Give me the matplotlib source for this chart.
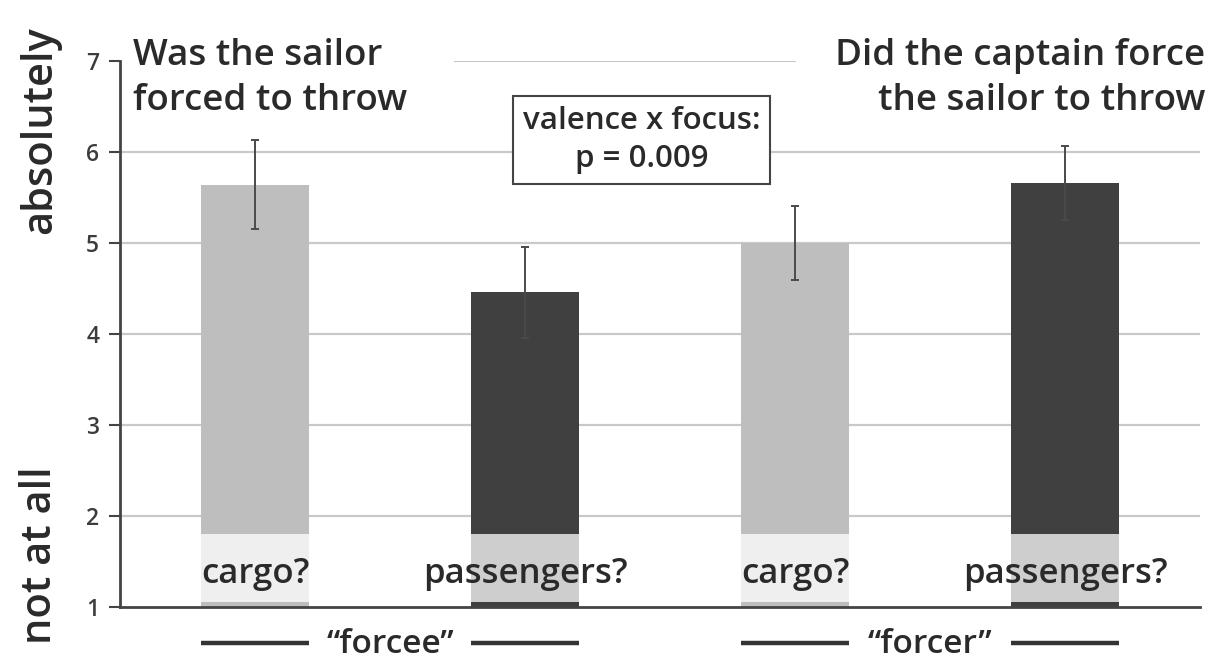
import matplotlib
matplotlib.use("Agg")
import matplotlib.pyplot as plt

plt.rcParams['font.family'] = ['Open Sans', 'DejaVu Sans']

categories = ["cargo?", "passengers?", "cargo?", "passengers?"]
means = [5.64, 4.46, 5.00, 5.66]
errors = [0.49, 0.50, 0.41, 0.41]
groups = ["\u201cforcee\u201d", "\u201cforcer\u201d"]
y_ticks = [1, 2, 3, 4, 5, 6, 7]

bar_colors = ["#bebebe", "#404040", "#bebebe", "#404040"]
band_colors = ["#efefef", "#cecece", "#efefef", "#cecece"]
band_low, band_high = 1.06, 1.80

W = "semibold"
TXT = "#2a2a2a"

fig = plt.figure(figsize=(12.17, 6.62), dpi=100)
ax = fig.add_axes([120/1217, 1-607/662, 1080/1217, 546/662])

x = list(range(len(categories)))
width = 0.4
ax.set_xlim(-0.5, len(categories) - 0.5)
ax.set_ylim(1, 7)

for yv in y_ticks[1:-1]:
    ax.axhline(yv, color="#c9c9c9", lw=1.6, zorder=0)
ax.axhline(7, xmin=0.31, xmax=0.625, color="#c9c9c9", lw=1.6, zorder=0)

ax.bar(x, [m - 1 for m in means], bottom=1, width=width, color=bar_colors, zorder=2)
ax.bar(x, band_high - band_low, bottom=band_low, width=width, color=band_colors, zorder=3)
ax.errorbar(x, means, yerr=errors, fmt="none", ecolor="#4a4a4a", elinewidth=1.4,
            capsize=3, capthick=1.4, zorder=4)

for xi, lab in zip(x, categories):
    ax.text(xi, 1.36, lab, ha="center", va="center", fontsize=25, fontweight=W,
            color=TXT, zorder=5)

# group labels with rules under each pair of bars
for gi, g in enumerate(groups):
    a, b = x[2*gi], x[2*gi + 1]
    ax.text((a + b) / 2, 0.585, g, ha="center", va="center", fontsize=24, fontweight=W,
            color=TXT, clip_on=False)
    for xi in (a, b):
        ax.plot([xi - width/2, xi + width/2], [0.6, 0.6], color="#333333", lw=3.2,
                clip_on=False, solid_capstyle="butt")

ax.set_yticks(y_ticks)
ax.set_yticklabels([str(t) for t in y_ticks], fontsize=16.5, fontweight="semibold", color="#3c3c3c")
ax.set_xticks([])
ax.tick_params(axis="y", direction="out", length=8, width=1.5, color="#444444", pad=7)
for s in ("top", "right"):
    ax.spines[s].set_visible(False)
for s in ("left", "bottom"):
    ax.spines[s].set_color("#444444")
    ax.spines[s].set_linewidth(2)

fig.text(40/1217, 1-130/662, "absolutely", rotation=90, ha="center", va="center",
         fontsize=30, fontweight=W, color=TXT)
fig.text(40/1217, 1-555/662, "not at all", rotation=90, ha="center", va="center",
         fontsize=30, fontweight=W, color=TXT)

fig.text(133/1217, 1-38/662, "Was the sailor\nforced to throw", ha="left", va="top",
         fontsize=26.5, fontweight=W, color=TXT, linespacing=1.32)
fig.text(1205/1217, 1-38/662, "Did the captain force\nthe sailor to throw", ha="right",
         va="top", fontsize=26.5, fontweight=W, color=TXT, linespacing=1.32,
         multialignment="right")

ax.text(0.483, 6.13, "valence x focus:\np = 0.009", transform=ax.get_yaxis_transform(),
        ha="center", va="center", fontsize=22.5, fontweight=W, color=TXT, linespacing=1.32,
        zorder=6, bbox=dict(boxstyle="square,pad=0.32", fc="white", ec="#444444", lw=1.5))

fig.savefig("out.png", dpi=100)
